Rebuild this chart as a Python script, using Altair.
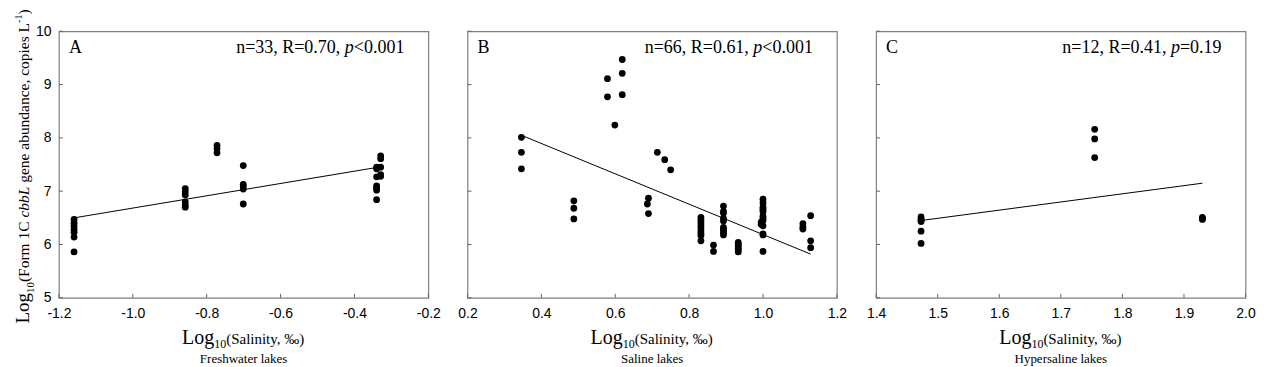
import altair as alt
import pandas as pd

# ---------------- data ----------------
A_x = [-1.159] * 7 + [-0.858] * 6 + [-0.772] * 3 + [-0.701] * 5 + [-0.340] * 7 + [-0.329] * 5
A_y = [6.47, 6.40, 6.34, 6.28, 6.23, 6.14, 5.86,
       7.05, 6.99, 6.93, 6.80, 6.74, 6.70,
       7.86, 7.80, 7.72,
       7.48, 7.13, 7.09, 7.04, 6.76,
       7.45, 7.42, 7.27, 7.10, 7.06, 7.02, 6.84,
       7.66, 7.61, 7.45, 7.31, 7.28]
A_fit_x = [-1.159, -0.335]
A_fit_y = [6.50, 7.45]

B_x = ([0.346] * 3 + [0.488] * 3 + [0.579] * 2 + [0.599] + [0.619] * 3 + [0.687] + [0.690] * 2
       + [0.714, 0.734, 0.750] + [0.832] * 9 + [0.866] * 2 + [0.893] * 10 + [0.933] * 6
       + [1.000] * 12 + [0.995] * 2 + [1.108] * 3 + [1.129] * 3)
B_y = [8.01, 7.73, 7.42,
       6.82, 6.68, 6.48,
       9.11, 8.77,
       8.24,
       9.47, 9.21, 8.81,
       6.76, 6.87, 6.58,
       7.73, 7.59, 7.40,
       6.51, 6.46, 6.42, 6.37, 6.32, 6.26, 6.21, 6.17, 6.07,
       5.99, 5.87,
       6.72, 6.62, 6.59, 6.49, 6.44, 6.32, 6.29, 6.26, 6.22, 6.18,
       6.04, 6.00, 5.97, 5.93, 5.90, 5.86,
       6.85, 6.78, 6.70, 6.66, 6.62, 6.53, 6.49, 6.45, 6.35, 6.20, 6.18, 5.87,
       6.42, 6.38,
       6.39, 6.33, 6.29,
       6.54, 6.07, 5.94]
B_fit_x = [0.349, 1.129]
B_fit_y = [8.04, 5.82]

C_x = [1.473] * 6 + [1.755] * 3 + [1.930] * 3
C_y = [6.52, 6.48, 6.46, 6.43, 6.25, 6.02,
       8.16, 7.98, 7.63,
       6.51, 6.49, 6.47]
C_fit_x = [1.473, 1.930]
C_fit_y = [6.45, 7.15]

Y_TICKS = [5, 6, 7, 8, 9, 10]
A_TICKS = [-1.2, -1.0, -0.8, -0.6, -0.4, -0.2]
B_TICKS = [0.2, 0.4, 0.6, 0.8, 1.0, 1.2]
C_TICKS = [1.4, 1.5, 1.6, 1.7, 1.8, 1.9, 2.0]

LETTERS = ["A", "B", "C"]
STATS = [("n=33, R=0.70, ", "p", "<0.001"),
         ("n=66, R=0.61, ", "p", "<0.001"),
         ("n=12, R=0.41, ", "p", "=0.19")]
GROUPS = ["Freshwater lakes", "Saline lakes", "Hypersaline lakes"]

# ---------------- layout helpers ----------------
W, H = 370, 267
SERIF = "Liberation Serif"
SANS = "Liberation Sans"

TIMES = {' ': .25, '(': .333, ')': .333, ',': .25, '-': .333, '.': .25, '<': .564, '=': .564,
         'A': .722, 'B': .667, 'C': .667, 'F': .556, 'H': .722, 'L': .611, 'R': .667, 'S': .556,
         'a': .444, 'b': .5, 'c': .444, 'd': .5, 'e': .444, 'f': .333, 'g': .5, 'h': .5, 'i': .278,
         'k': .5, 'l': .278, 'm': .778, 'n': .5, 'o': .5, 'p': .5, 'r': .333, 's': .389, 't': .278,
         'u': .5, 'w': .722, 'y': .5, '\u2030': 1.0}
for d in "0123456789":
    TIMES[d] = .5
ITALIC = {'b': .5, 'c': .444, 'L': .556, 'p': .5}


def tw(s, size, italic=False):
    tab = ITALIC if italic else TIMES
    return sum(tab.get(ch, TIMES.get(ch, .5)) for ch in s) * size


ONE = pd.DataFrame({"k": [0]})


def txt(s, x, y, size, italic=False, angle=0, align="left", font=SERIF):
    return alt.Chart(ONE).mark_text(
        text=s, font=font, fontSize=size, fontStyle="italic" if italic else "normal",
        align=align, baseline="alphabetic", angle=angle, color="black"
    ).encode(x=alt.value(round(x, 2)), y=alt.value(round(y, 2)))


def rich_h(segs, x0, y0):
    out, x = [], x0
    for s, size, it, dy in segs:
        lead = len(s) - len(s.lstrip(" "))
        if s.strip():
            out.append(txt(s.strip(), x + tw(s[:lead], size, it), y0 + dy, size, it))
        x += tw(s, size, it)
    return out


def rich_v(segs, x0, y0):
    out, y = [], y0
    for s, size, it, dy in segs:
        lead = len(s) - len(s.lstrip(" "))
        if s.strip():
            out.append(txt(s.strip(), x0 + dy, y - tw(s[:lead], size, it), size, it, angle=270))
        y -= tw(s, size, it)
    return out


def seg_len(segs):
    return sum(tw(s, size, it) for s, size, it, _ in segs)


LABEL_EXPR = "replace(format(datum.value, '.1f'), '\u2212', '-')"


def panel(i, xs, ys, fx, fy, xdom, xticks, show_y):
    df = pd.DataFrame({"x": xs, "y": ys})
    fit = pd.DataFrame({"x": fx, "y": fy})
    xsc = alt.Scale(domain=xdom, nice=False, zero=False)
    ysc = alt.Scale(domain=[5, 10], nice=False, zero=False)
    if show_y:
        yaxis = alt.Axis(values=Y_TICKS, title=None, ticks=False, domain=False, grid=False,
                         format="d", labelFont=SANS, labelFontSize=14, labelColor="black",
                         labelPadding=8)
    else:
        yaxis = None
    pts = alt.Chart(df).mark_circle(size=46, color="black", opacity=1).encode(
        x=alt.X("x:Q", scale=xsc,
                axis=alt.Axis(values=xticks, title=None, ticks=False, domain=False, grid=False,
                              labelExpr=LABEL_EXPR, labelFont=SANS, labelFontSize=14,
                              labelColor="black", labelPadding=9, labelFlush=False)),
        y=alt.Y("y:Q", scale=ysc, axis=yaxis),
    )
    line = alt.Chart(fit).mark_line(color="black", strokeWidth=1).encode(
        x=alt.X("x:Q", scale=xsc), y=alt.Y("y:Q", scale=ysc))
    yt = alt.Chart(pd.DataFrame({"v": Y_TICKS})).mark_rule(color="#666", strokeWidth=1).encode(
        y=alt.Y("v:Q", scale=ysc), x=alt.value(0), x2=alt.value(4))
    xt = alt.Chart(pd.DataFrame({"v": xticks})).mark_rule(color="#666", strokeWidth=1).encode(
        x=alt.X("v:Q", scale=xsc), y=alt.value(H - 4), y2=alt.value(H))

    layers = [pts, line, yt, xt]
    layers.append(txt(LETTERS[i], 10, 22, 18))
    a, p, b = STATS[i]
    segs = [(a, 18, False, 0), (p, 18, True, 0), (b, 18, False, 0)]
    layers += rich_h(segs, W - 24 - seg_len(segs), 22)
    xs_segs = [("Log", 20, False, 0), ("10", 12, False, 4), ("(Salinity, \u2030)", 15, False, 0)]
    layers += rich_h(xs_segs, W / 2 - seg_len(xs_segs) / 2, 313)
    layers.append(txt(GROUPS[i], W / 2, 332, 13, align="center"))
    if show_y:
        ys_segs = [("Log", 19, False, 0), ("10", 11, False, 5), ("(Form 1C ", 15.5, False, 0),
                   ("cbbL", 15.5, True, 0), (" gene abundance, copies L", 15.5, False, 0),
                   ("-1", 10, False, -7), (")", 15.5, False, 0)]
        layers += rich_v(ys_segs, -30, 135.5 + seg_len(ys_segs) / 2)
    return alt.layer(*layers).properties(width=W, height=H)


pa = panel(0, A_x, A_y, A_fit_x, A_fit_y, [-1.2, -0.2], A_TICKS, True)
pb = panel(1, B_x, B_y, B_fit_x, B_fit_y, [0.2, 1.2], B_TICKS, False)
pc = panel(2, C_x, C_y, C_fit_x, C_fit_y, [1.4, 2.0], C_TICKS, False)

chart = alt.hconcat(alt.hconcat(pa, pb, spacing=15.2), pc, spacing=17.5).configure_view(
    stroke="#808080", strokeWidth=1.2
).properties(
    padding={"left": 5, "top": 0, "right": 5, "bottom": 0}, background="white"
)

chart.save("out.html", embed_options={"renderer": "svg", "actions": False})
